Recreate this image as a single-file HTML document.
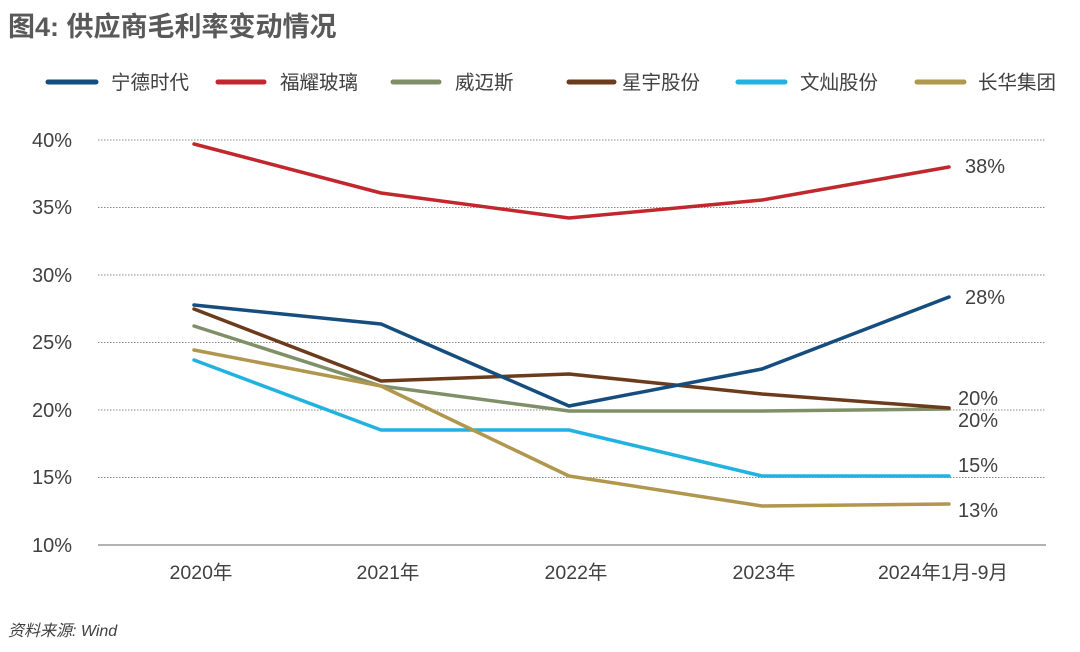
<!DOCTYPE html>
<html><head><meta charset="utf-8"><style>
body{margin:0;background:#fff;}
svg{display:block;font-family:"Liberation Sans","Noto Sans CJK SC",sans-serif;}
</style></head><body>
<svg width="1080" height="652" viewBox="0 0 1080 652">
<text x="8" y="36" font-size="27" font-weight="bold" fill="#595959">图4: 供应商毛利率变动情况</text>
<g stroke-width="5" stroke-linecap="round">
<line x1="48" y1="82" x2="96" y2="82" stroke="#144d7e"/>
<line x1="218" y1="82" x2="264" y2="82" stroke="#c1272d"/>
<line x1="393" y1="82" x2="439" y2="82" stroke="#7f9068"/>
<line x1="569" y1="82" x2="614" y2="82" stroke="#6b3b1c"/>
<line x1="738" y1="82" x2="785" y2="82" stroke="#22b2e0"/>
<line x1="917" y1="82" x2="964" y2="82" stroke="#b1964e"/>
</g>
<g font-size="19.5" fill="#404040">
<text x="111" y="89">宁德时代</text>
<text x="280" y="89">福耀玻璃</text>
<text x="455" y="89">威迈斯</text>
<text x="622" y="89">星宇股份</text>
<text x="800" y="89">文灿股份</text>
<text x="978" y="89">长华集团</text>
</g>
<g stroke="#888" stroke-width="1" stroke-dasharray="1.5,1.5">
<line x1="98" y1="140" x2="1046" y2="140"/>
<line x1="98" y1="207.5" x2="1046" y2="207.5"/>
<line x1="98" y1="275" x2="1046" y2="275"/>
<line x1="98" y1="342.5" x2="1046" y2="342.5"/>
<line x1="98" y1="410" x2="1046" y2="410"/>
<line x1="98" y1="477.5" x2="1046" y2="477.5"/>
</g>
<line x1="98" y1="545" x2="1046" y2="545" stroke="#666" stroke-width="1"/>
<g font-size="20" fill="#404040" text-anchor="end">
<text x="72" y="147">40%</text>
<text x="72" y="214">35%</text>
<text x="72" y="282">30%</text>
<text x="72" y="349">25%</text>
<text x="72" y="417">20%</text>
<text x="72" y="484">15%</text>
<text x="72" y="552">10%</text>
</g>
<g font-size="19.5" fill="#404040" text-anchor="middle">
<text x="201" y="579">2020年</text>
<text x="388" y="579">2021年</text>
<text x="576" y="579">2022年</text>
<text x="764" y="579">2023年</text>
<text x="943" y="579">2024年1月-9月</text>
</g>
<g fill="none" stroke-width="3.5" stroke-linejoin="round" stroke-linecap="round">
<polyline stroke="#c1272d" points="194,144 381,193 569,218 762,200 949,167"/>
<polyline stroke="#7f9068" points="194,326 381,386 569,411 762,411 949,409"/>
<polyline stroke="#22b2e0" points="194,360 381,430 569,430 762,476 949,476"/>
<polyline stroke="#b1964e" points="194,350 381,386 569,476 762,506 949,504"/>
<polyline stroke="#6b3b1c" points="194,309 381,381 569,374 762,394 949,408"/>
<polyline stroke="#144d7e" points="194,305 381,324 569,406 762,369 949,297"/>
</g>
<g font-size="20" fill="#404040">
<text x="965" y="173">38%</text>
<text x="965" y="304">28%</text>
<text x="958" y="405">20%</text>
<text x="958" y="427">20%</text>
<text x="958" y="472">15%</text>
<text x="958" y="517">13%</text>
</g>
<text x="8" y="636" font-size="16" font-style="italic" fill="#404040">资料来源: Wind</text>
</svg>
</body></html>
